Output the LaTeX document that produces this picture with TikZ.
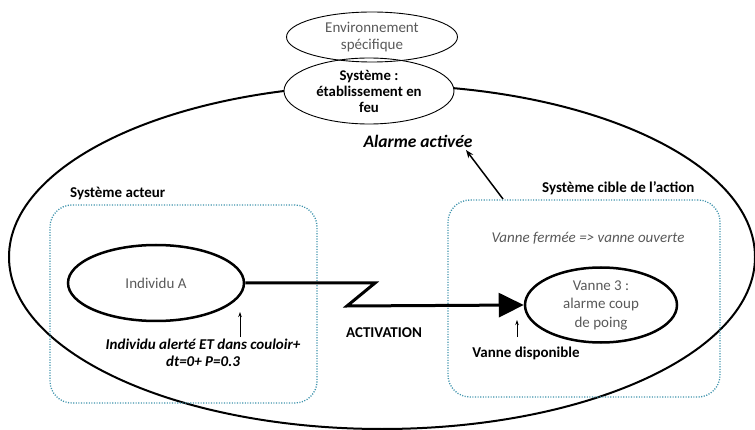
\documentclass[tikz,border=0pt]{standalone}
\usepackage{fontspec}
\setmainfont{Carlito}
\usetikzlibrary{arrows.meta,shapes.geometric}
\definecolor{dotc}{HTML}{3F93AC}
\definecolor{txtg}{HTML}{595959}
\tikzset{
  oval/.style={ellipse,draw,inner sep=0pt,align=center},
  dotbox/.style={draw=dotc,line width=1.3pt,dash pattern=on 1.1pt off 1.5pt,rounded corners=22pt,inner sep=0pt},
  lbl/.style={inner sep=0pt,align=center},
  bf/.style={font=\bfseries\fontsize{15}{17}\selectfont},
  conn/.style={line width=3pt,line join=miter},
  tick/.style={line width=0.8pt,-{Stealth[length=5pt,width=3.5pt]}}
}
\begin{document}
\begin{tikzpicture}[x=1pt,y=-1pt]
\useasboundingbox (0,0) rectangle (755,430);
% big system ellipse
\node[ellipse,draw,line width=2pt,minimum width=746pt,minimum height=344pt,inner sep=0pt] (big) at (382,257) {};
% Système node
\node[oval,fill=white,line width=0.9pt,minimum width=170pt,minimum height=66pt,font=\bfseries\fontsize{14.8}{16}\selectfont] (sys) at (369,91) {Système :\\établissement en\\feu};
% Environnement node
\node[oval,line width=0.9pt,minimum width=171pt,minimum height=50pt,text=txtg,font=\fontsize{15}{17}\selectfont] (env) at (372,37) {Environnement\\spécifique};
% dotted boxes
\node[dotbox,minimum width=267pt,minimum height=198pt] (L) at (183.5,304) {};
\node[dotbox,minimum width=272pt,minimum height=197pt] (R) at (584,298.5) {};
% labels
\node[lbl,bf,anchor=west] (sa) at (70,194) {Système acteur};
\node[lbl,bf,anchor=west] (sc) at (542,188) {Système cible de l’action};
\node[lbl,font=\bfseries\itshape\fontsize{17.5}{20}\selectfont] (alarm) at (418,141) {Alarme activée};
\node[lbl,font=\itshape\fontsize{15}{17}\selectfont,text=txtg] (vf) at (588,238) {Vanne fermée => vanne ouverte};
\node[lbl,font=\bfseries\itshape\fontsize{15}{17}\selectfont] (cond) at (203,353) {Individu alerté ET dans couloir+\\dt=0+ P=0.3};
\node[lbl,bf] (act) at (384,333) {ACTIVATION};
\node[lbl,bf] (vd) at (526,353) {Vanne disponible};
% actor and target
\node[oval,line width=2.5pt,minimum width=176pt,minimum height=76pt,text=txtg,font=\fontsize{15}{17}\selectfont] (A) at (156,283) {Individu A};
\node[oval,line width=2.5pt,minimum width=152pt,minimum height=75pt,text=txtg,font=\fontsize{15}{18.5}\selectfont] (V) at (601,305) {Vanne 3 :\\alarme coup\\de poing};
% activation connector
\coordinate (z1) at (375,283);
\coordinate (z2) at (347,306);
\draw[conn,-{Triangle[length=25pt,width=24pt]}] (A.east) -- (z1) -- (z2) -- (V.west);
% small arrows
\coordinate (t1) at (240,337);
\coordinate (h1) at (240,312);
\draw[tick] (t1) -- (h1);
\coordinate (t2) at (517,337);
\coordinate (h2) at (517,320);
\draw[tick] (t2) -- (h2);
% arrow to Alarme activée
\coordinate (ra) at (503,199);
\coordinate (ha) at (466,150);
\draw[line width=1.5pt,-{Stealth[length=8pt,width=6pt]}] (ra) -- (ha);
\end{tikzpicture}
\end{document}
